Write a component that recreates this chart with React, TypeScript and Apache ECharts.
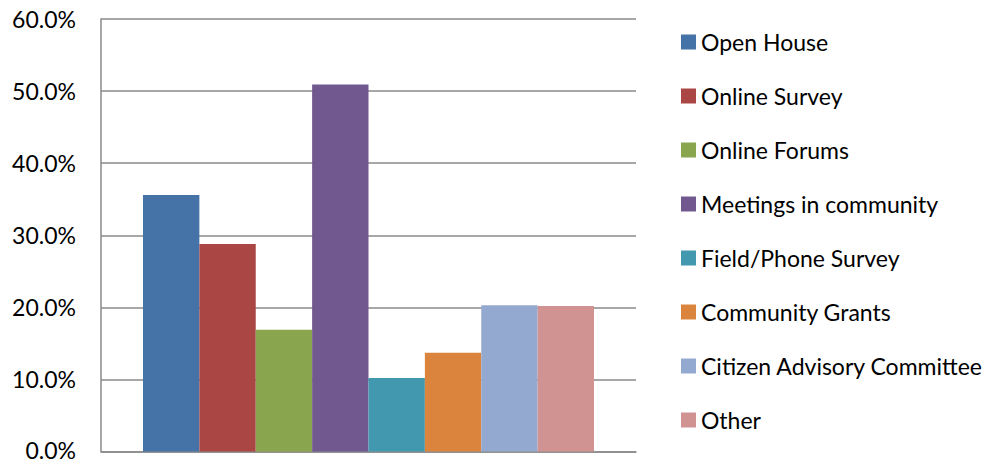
import React, { useEffect, useRef } from "react";
import * as echarts from "echarts";

const seriesNames = [
  "Open House",
  "Online Survey",
  "Online Forums",
  "Meetings in community",
  "Field/Phone Survey",
  "Community Grants",
  "Citizen Advisory Committee",
  "Other",
];
const seriesValues = [35.6, 28.8, 16.9, 50.9, 10.2, 13.7, 20.3, 20.2];
const seriesColors = [
  "#4572A7",
  "#AA4643",
  "#89A54E",
  "#71588F",
  "#4198AF",
  "#DB843D",
  "#93A9CF",
  "#D19392",
];
const categories = [""];

const FONT = "Lato, 'Open Sans', sans-serif";

export default function App() {
  const ref = useRef<HTMLDivElement>(null);
  useEffect(() => {
    if (!ref.current) return;
    const chart = echarts.init(ref.current, null, { renderer: "svg" });
    chart.setOption({
      animation: false,
      backgroundColor: "#ffffff",
      textStyle: { fontFamily: FONT },
      grid: {
        left: 101,
        right: 369,
        top: 19,
        bottom: 11.5,
        containLabel: false,
        outerBoundsMode: "none",
      },
      legend: {
        orient: "vertical",
        left: 681,
        top: 30,
        itemWidth: 15,
        itemHeight: 15,
        itemGap: 30,
        icon: "rect",
        padding: 0,
        textStyle: { fontSize: 23, color: "#000000", fontFamily: FONT, lineHeight: 24 },
        data: seriesNames,
      },
      xAxis: {
        type: "category",
        data: categories,
        axisLine: { show: true, lineStyle: { color: "#8a8a8a", width: 1.5 } },
        axisTick: { show: false },
        axisLabel: { show: false },
      },
      yAxis: {
        type: "value",
        min: 0,
        max: 60,
        interval: 10,
        axisLine: { show: true, lineStyle: { color: "#8a8a8a", width: 1.5 } },
        axisTick: { show: false },
        splitLine: { lineStyle: { color: "#8a8a8a", width: 1.5 } },
        axisLabel: {
          formatter: (v: number) =>
            v === 0 ? "{z|" + v.toFixed(1) + "%}" : v.toFixed(1) + "%",
          fontSize: 23,
          color: "#000000",
          margin: 25,
          fontFamily: FONT,
          rich: {
            z: {
              fontSize: 23,
              color: "#000000",
              fontFamily: FONT,
              lineHeight: 20,
              padding: [0, 0, 4, 0],
            },
          },
        },
      },
      series: seriesNames.map((name, i) => ({
        name,
        type: "bar",
        data: [seriesValues[i]],
        itemStyle: { color: seriesColors[i] },
        barGap: "0%",
        barCategoryGap: "15.7%",
      })),
    });
    return () => chart.dispose();
  }, []);
  return (
    <div
      ref={ref}
      style={{ position: "fixed", left: 0, top: 0, width: 1005, height: 463 }}
    />
  );
}
